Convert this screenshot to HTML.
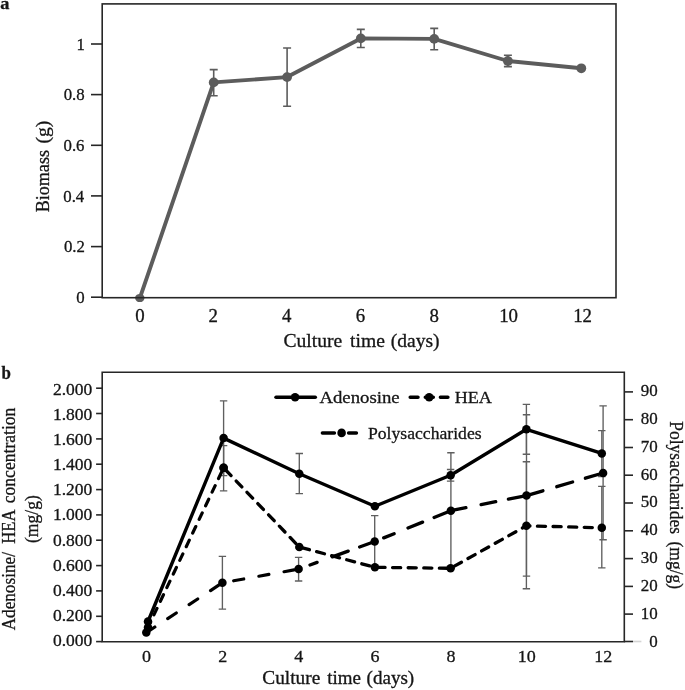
<!DOCTYPE html>
<html><head><meta charset="utf-8"><title>Figure</title>
<style>html,body{margin:0;padding:0;background:#fff;overflow:hidden;}svg{display:block;position:absolute;left:0;top:0;will-change:transform;}text{font-family:"Liberation Serif",serif;fill:#151515;font-kerning:none;stroke:#151515;stroke-width:0.3px;}</style>
</head><body>
<svg width="685" height="690" viewBox="0 0 685 690">
<rect x="0" y="0" width="685" height="690" fill="#fff"/>
<path d="M213.7 69.6V95.7M209.7 69.6H217.7M209.7 95.7H217.7" stroke="#5c5c5c" stroke-width="1.6" fill="none"/>
<path d="M287.1 48.0V106.3M283.1 48.0H291.1M283.1 106.3H291.1" stroke="#5c5c5c" stroke-width="1.6" fill="none"/>
<path d="M360.8 29.4V47.5M356.8 29.4H364.8M356.8 47.5H364.8" stroke="#5c5c5c" stroke-width="1.6" fill="none"/>
<path d="M434.2 28.4V49.7M430.2 28.4H438.2M430.2 49.7H438.2" stroke="#5c5c5c" stroke-width="1.6" fill="none"/>
<path d="M507.9 55.3V66.6M503.9 55.3H511.9M503.9 66.6H511.9" stroke="#5c5c5c" stroke-width="1.6" fill="none"/>
<polyline points="140.0,297.7 213.7,82.4 287.1,77.1 360.8,38.4 434.2,38.9 507.9,61.0 581.3,68.3" fill="none" stroke="#5c5c5c" stroke-width="3.9" stroke-linejoin="round" stroke-linecap="round"/>
<ellipse cx="139.8" cy="298.0" rx="4.7" ry="4.1" fill="#5c5c5c"/>
<circle cx="213.7" cy="82.4" r="4.9" fill="#5c5c5c"/>
<circle cx="287.1" cy="77.1" r="4.9" fill="#5c5c5c"/>
<circle cx="360.8" cy="38.4" r="4.9" fill="#5c5c5c"/>
<circle cx="434.2" cy="38.9" r="4.9" fill="#5c5c5c"/>
<circle cx="507.9" cy="61.0" r="4.9" fill="#5c5c5c"/>
<circle cx="581.3" cy="68.3" r="4.9" fill="#5c5c5c"/>
<rect x="102.2" y="3.9" width="513.8" height="293.8" fill="none" stroke="#262626" stroke-width="1.6"/>
<line x1="91" y1="297.2" x2="102.2" y2="297.2" stroke="#262626" stroke-width="1.6"/>
<text transform="translate(76.24,302.80) scale(1.0300,1)" font-size="16.3">0</text>
<line x1="91" y1="246.6" x2="102.2" y2="246.6" stroke="#262626" stroke-width="1.6"/>
<text transform="translate(63.94,252.16) scale(1.0300,1)" font-size="16.3">0.2</text>
<line x1="91" y1="195.9" x2="102.2" y2="195.9" stroke="#262626" stroke-width="1.6"/>
<text transform="translate(63.28,201.52) scale(1.0300,1)" font-size="16.3">0.4</text>
<line x1="91" y1="145.3" x2="102.2" y2="145.3" stroke="#262626" stroke-width="1.6"/>
<text transform="translate(63.51,150.88) scale(1.0300,1)" font-size="16.3">0.6</text>
<line x1="91" y1="94.6" x2="102.2" y2="94.6" stroke="#262626" stroke-width="1.6"/>
<text transform="translate(63.65,100.24) scale(1.0300,1)" font-size="16.3">0.8</text>
<line x1="91" y1="44.0" x2="102.2" y2="44.0" stroke="#262626" stroke-width="1.6"/>
<text transform="translate(76.61,49.60) scale(1.0300,1)" font-size="16.3">1</text>
<text transform="translate(135.19,321.70) scale(1.0300,1)" font-size="18.3">0</text>
<text transform="translate(208.49,321.70) scale(1.0300,1)" font-size="18.3">2</text>
<text transform="translate(281.89,321.70) scale(1.0300,1)" font-size="18.3">4</text>
<text transform="translate(355.69,321.70) scale(1.0300,1)" font-size="18.3">6</text>
<text transform="translate(429.49,321.70) scale(1.0300,1)" font-size="18.3">8</text>
<text transform="translate(499.18,321.70) scale(1.0300,1)" font-size="18.3">10</text>
<text transform="translate(573.18,321.70) scale(1.0300,1)" font-size="18.3">12</text>
<text transform="translate(283.40,346.80) scale(1.0154,1)" font-size="19.3">Culture</text>
<text transform="translate(350.01,346.80) scale(1.0166,1)" font-size="19.3">time</text>
<text transform="translate(390.74,346.80) scale(1.0143,1)" font-size="19.3">(days)</text>
<text transform="translate(49.20,212.32) rotate(-90) scale(0.9318,1)" font-size="19.4">Biomass</text>
<text transform="translate(49.20,143.56) rotate(-90) scale(1.0136,1)" font-size="19.4">(g)</text>
<text transform="translate(0.31,8.80) scale(1.0661,1)" font-size="17.2" font-weight="bold">a</text>
<path d="M222.4 556.3V609.1M218.7 556.3H226.1M218.7 609.1H226.1" stroke="#5f5f5f" stroke-width="1.35" fill="none"/>
<path d="M298.6 557.4V581.0M294.9 557.4H302.3M294.9 581.0H302.3" stroke="#5f5f5f" stroke-width="1.35" fill="none"/>
<path d="M374.7 515.6V567.4M371.0 515.6H378.4M371.0 567.4H378.4" stroke="#5f5f5f" stroke-width="1.35" fill="none"/>
<path d="M450.9 452.7V568.5M447.2 452.7H454.6M447.2 568.5H454.6" stroke="#5f5f5f" stroke-width="1.35" fill="none"/>
<path d="M526.5 414.7V576.1M522.8 414.7H530.2M522.8 576.1H530.2" stroke="#5f5f5f" stroke-width="1.35" fill="none"/>
<path d="M603.1 405.8V539.7M599.4 405.8H606.8M599.4 539.7H606.8" stroke="#5f5f5f" stroke-width="1.35" fill="none"/>
<path d="M223.6 445.6V490.9M219.9 445.6H227.3M219.9 490.9H227.3" stroke="#5f5f5f" stroke-width="1.35" fill="none"/>
<path d="M526.4 461.7V588.7M522.7 461.7H530.1M522.7 588.7H530.1" stroke="#5f5f5f" stroke-width="1.35" fill="none"/>
<path d="M601.8 486.3V567.8M598.1 486.3H605.5M598.1 567.8H605.5" stroke="#5f5f5f" stroke-width="1.35" fill="none"/>
<path d="M223.6 400.8V475.6M219.9 400.8H227.3M219.9 475.6H227.3" stroke="#5f5f5f" stroke-width="1.35" fill="none"/>
<path d="M299.3 453.5V493.6M295.6 453.5H303.0M295.6 493.6H303.0" stroke="#5f5f5f" stroke-width="1.35" fill="none"/>
<path d="M450.6 469.5V481.1M446.9 469.5H454.3M446.9 481.1H454.3" stroke="#5f5f5f" stroke-width="1.35" fill="none"/>
<path d="M526.4 404.3V454.2M522.7 404.3H530.1M522.7 454.2H530.1" stroke="#5f5f5f" stroke-width="1.35" fill="none"/>
<path d="M601.8 430.6V476.5M598.1 430.6H605.5M598.1 476.5H605.5" stroke="#5f5f5f" stroke-width="1.35" fill="none"/>
<polyline points="146.3,632.6 222.4,582.8 298.6,569.1" fill="none" stroke="#000" stroke-width="3.2" stroke-linejoin="round" stroke-dasharray="10.2 15.4" stroke-dashoffset="0" stroke-linecap="round"/>
<circle cx="146.3" cy="632.6" r="4.25" fill="#000"/>
<circle cx="222.4" cy="582.8" r="4.25" fill="#000"/>
<circle cx="298.6" cy="569.1" r="4.25" fill="#000"/>
<path d="M310.0 565.0L317.1 562.4M332.3 556.9L348.2 551.1M359.6 547.0L374.7 541.5M383.7 537.9L394.1 533.7M408.0 528.0L422.6 522.1M434.1 517.5L450.8 510.7M450.8 510.7L465.9 507.7M481.1 504.7L495.7 501.7M508.4 499.2L526.5 495.6M526.5 495.6L542.9 490.8M556.8 486.7L572.6 482.0M585.4 478.2L603.1 473.0" fill="none" stroke="#000" stroke-width="3.3" stroke-linecap="round"/>
<circle cx="374.7" cy="541.5" r="4.25" fill="#000"/>
<circle cx="450.9" cy="510.7" r="4.25" fill="#000"/>
<circle cx="526.5" cy="495.6" r="4.25" fill="#000"/>
<circle cx="603.1" cy="473.0" r="4.25" fill="#000"/>
<polyline points="148.0,627.4 223.6,467.8" fill="none" stroke="#000" stroke-width="3.2" stroke-linejoin="round" stroke-dasharray="7.2 7.9" stroke-dashoffset="1.3" stroke-linecap="round"/>
<circle cx="148.0" cy="627.4" r="4.25" fill="#000"/>
<circle cx="223.6" cy="467.8" r="4.25" fill="#000"/>
<polyline points="223.6,467.8 299.3,547.0 374.9,567.3 450.6,568.3 526.4,525.8 601.8,527.8" fill="none" stroke="#000" stroke-width="3.3" stroke-linejoin="round" stroke-dasharray="8.1 7.5" stroke-dashoffset="-2.7" stroke-linecap="round"/>
<circle cx="223.6" cy="467.8" r="4.25" fill="#000"/>
<circle cx="299.3" cy="547.0" r="4.25" fill="#000"/>
<circle cx="374.9" cy="567.3" r="4.25" fill="#000"/>
<circle cx="450.6" cy="568.3" r="4.25" fill="#000"/>
<circle cx="526.4" cy="525.8" r="4.25" fill="#000"/>
<circle cx="601.8" cy="527.8" r="4.25" fill="#000"/>
<polyline points="148.0,621.5 223.6,438.1 299.3,473.7 374.9,506.2 450.6,475.2 526.4,429.3 601.8,453.4" fill="none" stroke="#000" stroke-width="3.4" stroke-linejoin="round" stroke-linecap="butt"/>
<circle cx="148.0" cy="621.5" r="4.25" fill="#000"/>
<circle cx="223.6" cy="438.1" r="4.25" fill="#000"/>
<circle cx="299.3" cy="473.7" r="4.25" fill="#000"/>
<circle cx="374.9" cy="506.2" r="4.25" fill="#000"/>
<circle cx="450.6" cy="475.2" r="4.25" fill="#000"/>
<circle cx="526.4" cy="429.3" r="4.25" fill="#000"/>
<circle cx="601.8" cy="453.4" r="4.25" fill="#000"/>
<path d="M102.2 372.2V641.7H624.3V372.2Z" fill="none" stroke="#262626" stroke-width="1.6"/>
<line x1="96.1" y1="641.6" x2="102.2" y2="641.6" stroke="#262626" stroke-width="1.6"/>
<text transform="translate(52.94,646.20) scale(1.0750,1)" font-size="16.3">0.000</text>
<line x1="96.1" y1="616.3" x2="102.2" y2="616.3" stroke="#262626" stroke-width="1.6"/>
<text transform="translate(52.94,621.03) scale(1.0750,1)" font-size="16.3">0.200</text>
<line x1="96.1" y1="590.9" x2="102.2" y2="590.9" stroke="#262626" stroke-width="1.6"/>
<text transform="translate(52.94,595.86) scale(1.0750,1)" font-size="16.3">0.400</text>
<line x1="96.1" y1="565.6" x2="102.2" y2="565.6" stroke="#262626" stroke-width="1.6"/>
<text transform="translate(52.94,570.69) scale(1.0750,1)" font-size="16.3">0.600</text>
<line x1="96.1" y1="540.2" x2="102.2" y2="540.2" stroke="#262626" stroke-width="1.6"/>
<text transform="translate(52.94,545.52) scale(1.0750,1)" font-size="16.3">0.800</text>
<line x1="96.1" y1="514.9" x2="102.2" y2="514.9" stroke="#262626" stroke-width="1.6"/>
<text transform="translate(52.94,520.35) scale(1.0750,1)" font-size="16.3">1.000</text>
<line x1="96.1" y1="489.6" x2="102.2" y2="489.6" stroke="#262626" stroke-width="1.6"/>
<text transform="translate(52.94,495.18) scale(1.0750,1)" font-size="16.3">1.200</text>
<line x1="96.1" y1="464.2" x2="102.2" y2="464.2" stroke="#262626" stroke-width="1.6"/>
<text transform="translate(52.94,470.01) scale(1.0750,1)" font-size="16.3">1.400</text>
<line x1="96.1" y1="438.9" x2="102.2" y2="438.9" stroke="#262626" stroke-width="1.6"/>
<text transform="translate(52.94,444.84) scale(1.0750,1)" font-size="16.3">1.600</text>
<line x1="96.1" y1="413.5" x2="102.2" y2="413.5" stroke="#262626" stroke-width="1.6"/>
<text transform="translate(52.94,419.67) scale(1.0750,1)" font-size="16.3">1.800</text>
<line x1="96.1" y1="388.2" x2="102.2" y2="388.2" stroke="#262626" stroke-width="1.6"/>
<text transform="translate(52.94,394.50) scale(1.0750,1)" font-size="16.3">2.000</text>
<line x1="624.3" y1="641.5" x2="633.0" y2="641.5" stroke="#262626" stroke-width="1.6"/>
<line x1="633" y1="641.5" x2="641.4" y2="641.5" stroke="#d4d4d4" stroke-width="1.6"/>
<text transform="translate(649.27,646.60) scale(1.0400,1)" font-size="16.3">0</text>
<line x1="624.3" y1="614.1" x2="633.0" y2="614.1" stroke="#262626" stroke-width="1.6"/>
<text transform="translate(640.79,618.77) scale(1.0400,1)" font-size="16.3">10</text>
<line x1="624.3" y1="586.4" x2="633.0" y2="586.4" stroke="#262626" stroke-width="1.6"/>
<text transform="translate(640.79,590.94) scale(1.0400,1)" font-size="16.3">20</text>
<line x1="624.3" y1="558.6" x2="633.0" y2="558.6" stroke="#262626" stroke-width="1.6"/>
<text transform="translate(640.79,563.11) scale(1.0400,1)" font-size="16.3">30</text>
<line x1="624.3" y1="530.8" x2="633.0" y2="530.8" stroke="#262626" stroke-width="1.6"/>
<text transform="translate(640.79,535.28) scale(1.0400,1)" font-size="16.3">40</text>
<line x1="624.3" y1="503.0" x2="633.0" y2="503.0" stroke="#262626" stroke-width="1.6"/>
<text transform="translate(640.79,507.45) scale(1.0400,1)" font-size="16.3">50</text>
<line x1="624.3" y1="475.2" x2="633.0" y2="475.2" stroke="#262626" stroke-width="1.6"/>
<text transform="translate(640.79,479.62) scale(1.0400,1)" font-size="16.3">60</text>
<line x1="624.3" y1="447.5" x2="633.0" y2="447.5" stroke="#262626" stroke-width="1.6"/>
<text transform="translate(640.79,451.79) scale(1.0400,1)" font-size="16.3">70</text>
<line x1="624.3" y1="419.7" x2="633.0" y2="419.7" stroke="#262626" stroke-width="1.6"/>
<text transform="translate(640.79,423.96) scale(1.0400,1)" font-size="16.3">80</text>
<line x1="624.3" y1="391.9" x2="633.0" y2="391.9" stroke="#262626" stroke-width="1.6"/>
<text transform="translate(640.79,396.13) scale(1.0400,1)" font-size="16.3">90</text>
<text transform="translate(141.99,662.00) scale(1.0300,1)" font-size="17.5">0</text>
<text transform="translate(218.13,662.00) scale(1.0300,1)" font-size="17.5">2</text>
<text transform="translate(294.27,662.00) scale(1.0300,1)" font-size="17.5">4</text>
<text transform="translate(370.41,662.00) scale(1.0300,1)" font-size="17.5">6</text>
<text transform="translate(446.55,662.00) scale(1.0300,1)" font-size="17.5">8</text>
<text transform="translate(517.64,662.00) scale(1.0300,1)" font-size="17.5">10</text>
<text transform="translate(594.33,662.00) scale(1.0300,1)" font-size="17.5">12</text>
<text transform="translate(262.31,684.40) scale(1.0856,1)" font-size="17.8">Culture</text>
<text transform="translate(327.31,684.40) scale(1.0666,1)" font-size="17.8">time</text>
<text transform="translate(366.56,684.40) scale(1.0718,1)" font-size="17.8">(days)</text>
<text transform="translate(14.80,630.37) rotate(-90) scale(0.9056,1)" font-size="19">Adenosine/</text>
<text transform="translate(14.80,543.78) rotate(-90) scale(0.8785,1)" font-size="19">HEA</text>
<text transform="translate(14.80,503.27) rotate(-90) scale(0.9259,1)" font-size="19">concentration</text>
<text transform="translate(37.60,542.97) rotate(-90) scale(0.8996,1)" font-size="19.5">(mg/g)</text>
<text transform="translate(669.80,421.19) rotate(90) scale(0.8990,1)" font-size="19.5">Polysaccharides</text>
<text transform="translate(669.80,541.43) rotate(90) scale(0.8996,1)" font-size="19.5">(mg/g)</text>
<text transform="translate(1.39,378.80) scale(0.9495,1)" font-size="17.8" font-weight="bold">b</text>
<line x1="276.0" y1="397.2" x2="315.3" y2="397.2" stroke="#000" stroke-width="3.5" stroke-linecap="round"/>
<circle cx="295.1" cy="397.2" r="4.3" fill="#000"/>
<text transform="translate(319.42,402.50) scale(1.0672,1)" font-size="17.6">Adenosine</text>
<path d="M410.2 397.2H418.0M425.3 397.2H433.3M440.4 397.2H447.9" stroke="#000" stroke-width="3.5" stroke-linecap="round" fill="none"/>
<circle cx="429.2" cy="397.2" r="4.3" fill="#000"/>
<text transform="translate(454.68,402.50) scale(1.0300,1)" font-size="17.6">HEA</text>
<path d="M322.4 432.9H334.4M348.6 432.9H356.4" stroke="#000" stroke-width="3.5" stroke-linecap="round" fill="none"/>
<circle cx="341.6" cy="432.9" r="4.3" fill="#000"/>
<text transform="translate(367.99,438.60) scale(1.0023,1)" font-size="17.6">Polysaccharides</text>
</svg></body></html>
